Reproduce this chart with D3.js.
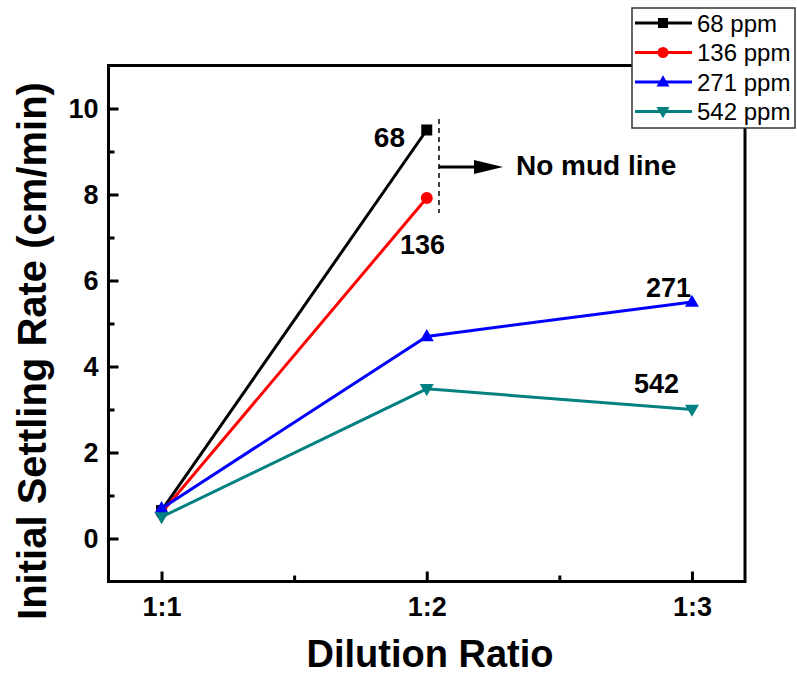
<!DOCTYPE html>
<html>
<head>
<meta charset="utf-8">
<script src="https://cdn.jsdelivr.net/npm/d3@7"></script>
<style>
  body { margin: 0; background: #fff; }
  svg { display: block; font-family: "Liberation Sans", Arial, Helvetica, sans-serif; }
</style>
</head>
<body>
<svg id="chart" width="797" height="675"></svg>
<script>
// Dilution ratios on the x axis (positions 1, 2, 3)
const dilutions = ["1:1", "1:2", "1:3"];
// Initial settling rate (cm/min) per flocculant dose
const ppm68  = [0.65, 9.5];
const ppm136 = [0.6, 7.92];
const ppm271 = [0.7, 4.7, 5.5];
const ppm542 = [0.5, 3.48, 3.0];
const seriesNames = ["68 ppm", "136 ppm", "271 ppm", "542 ppm"];
const seriesColors = ["#000000", "#ff0000", "#0000ff", "#008080"];
const seriesSymbols = ["square", "circle", "triangleUp", "triangleDown"];
const yTicks = [0, 2, 4, 6, 8, 10];
const yMinorTicks = [1, 3, 5, 7, 9];
const xMinorTicks = [1.5, 2.5];

const series = [ppm68, ppm136, ppm271, ppm542].map((vals, i) => ({
  name: seriesNames[i],
  color: seriesColors[i],
  symbol: seriesSymbols[i],
  points: vals.map((v, j) => ({ x: j + 1, y: v }))
}));

const svg = d3.select("#chart");
const plotLeft = 108.5, plotRight = 745, plotTop = 65.5, plotBottom = 581.5;

const x = d3.scaleLinear().domain([0.8, 3.2]).range([plotLeft, plotRight]);
const y = d3.scaleLinear().domain([-1, 11]).range([plotBottom, plotTop]);

// Marker shapes
function markerPath(sym, size) {
  const s = size;
  if (sym === "square") return `M${-s/2},${-s/2}h${s}v${s}h${-s}Z`;
  if (sym === "circle") return d3.symbol(d3.symbolCircle, Math.PI * (s/2) * (s/2))();
  const h = s * 0.87;
  if (sym === "triangleUp") return `M0,${-h*0.6}L${s/2},${h*0.4}L${-s/2},${h*0.4}Z`;
  return `M0,${h*0.6}L${s/2},${-h*0.4}L${-s/2},${-h*0.4}Z`;
}
const markerSize = { square: 11, circle: 12, triangleUp: 14, triangleDown: 14 };

// Axes with inward ticks
const yAxis = d3.axisLeft(y).tickValues(yTicks).tickSize(-10).tickPadding(10).tickFormat(d3.format("d"));
const yMinor = d3.axisLeft(y).tickValues(yMinorTicks).tickSize(-6).tickFormat("");
const xAxis = d3.axisBottom(x).tickValues([1, 2, 3]).tickSize(-10).tickPadding(15)
  .tickFormat(d => dilutions[d - 1]);
const xMinor = d3.axisBottom(x).tickValues(xMinorTicks).tickSize(-6).tickFormat("");

function styleAxis(g) {
  g.select(".domain").remove();
  g.selectAll(".tick line").attr("stroke", "#000").attr("stroke-width", 3);
  g.selectAll(".tick text").attr("fill", "#000").style("font-size", "27px").style("font-weight", "bold")
    .style("font-family", "'Liberation Sans', Arial, sans-serif");
}
svg.append("g").attr("transform", `translate(${plotLeft},0)`).call(yAxis).call(styleAxis);
svg.append("g").attr("transform", `translate(${plotLeft},0)`).call(yMinor).call(styleAxis);
svg.append("g").attr("transform", `translate(0,${plotBottom})`).call(xAxis).call(styleAxis);
svg.append("g").attr("transform", `translate(0,${plotBottom})`).call(xMinor).call(styleAxis);

// Plot frame
svg.append("rect")
  .attr("x", plotLeft).attr("y", plotTop).attr("width", plotRight - plotLeft).attr("height", plotBottom - plotTop)
  .attr("fill", "none").attr("stroke", "#000").attr("stroke-width", 3);

// Series lines and markers
const line = d3.line().x(d => x(d.x)).y(d => y(d.y));
series.forEach(s => {
  const g = svg.append("g");
  g.append("path").attr("d", line(s.points)).attr("fill", "none")
    .attr("stroke", s.color).attr("stroke-width", 3);
  g.selectAll("path.mk").data(s.points).enter().append("path").attr("class", "mk")
    .attr("d", markerPath(s.symbol, markerSize[s.symbol]))
    .attr("transform", d => `translate(${x(d.x)},${y(d.y)})`)
    .attr("fill", s.color);
});

// Series annotations
const ann = svg.append("g").attr("fill", "#000").style("font-weight", "bold");
ann.append("text").attr("x", 405).attr("y", 147).attr("text-anchor", "end").style("font-size", "28px").text("68");
ann.append("text").attr("x", 400).attr("y", 254).style("font-size", "27px").text("136");
ann.append("text").attr("x", 646).attr("y", 297).style("font-size", "27px").text("271");
ann.append("text").attr("x", 634).attr("y", 393).style("font-size", "27px").text("542");
ann.append("text").attr("x", 516).attr("y", 175).style("font-size", "28px").text("No mud line");

// Dashed cutoff and arrow
svg.append("line").attr("x1", 439).attr("x2", 439).attr("y1", 119).attr("y2", 213)
  .attr("stroke", "#000").attr("stroke-width", 1.5).attr("stroke-dasharray", "5,4");
svg.append("line").attr("x1", 439).attr("x2", 480).attr("y1", 167).attr("y2", 167)
  .attr("stroke", "#000").attr("stroke-width", 3);
svg.append("path").attr("d", "M474,160L503,167L474,174Z").attr("fill", "#000");

// Axis titles
svg.append("text").attr("transform", "translate(46,351) rotate(-90)").attr("text-anchor", "middle")
  .style("font-size", "40px").style("font-weight", "bold").text("Initial Settling Rate (cm/min)");
svg.append("text").attr("x", 430).attr("y", 667).attr("text-anchor", "middle")
  .style("font-size", "38px").style("font-weight", "bold").text("Dilution Ratio");

// Legend
const lg = svg.append("g");
lg.append("rect").attr("x", 632).attr("y", 8).attr("width", 163).attr("height", 120)
  .attr("fill", "#fff").attr("stroke", "#333").attr("stroke-width", 1.5);
series.forEach((s, i) => {
  const cy = 23 + i * 29.5;
  lg.append("line").attr("x1", 635).attr("x2", 692).attr("y1", cy).attr("y2", cy)
    .attr("stroke", s.color).attr("stroke-width", 3);
  lg.append("path").attr("d", markerPath(s.symbol, markerSize[s.symbol] - 1))
    .attr("transform", `translate(663,${cy})`).attr("fill", s.color);
  lg.append("text").attr("x", 697).attr("y", cy).attr("dy", "0.36em")
    .style("font-size", "24px").attr("fill", "#000").text(s.name);
});
</script>
</body>
</html>
